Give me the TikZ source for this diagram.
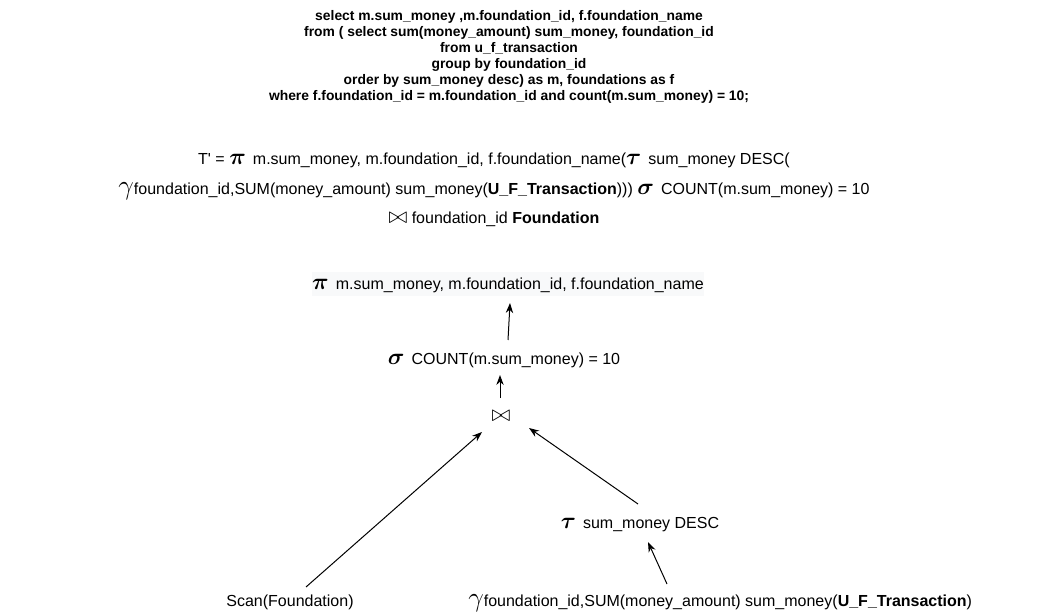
\documentclass[tikz,border=0pt]{standalone}
\usepackage{amsmath}
\usepackage{fontspec}
\setmainfont{Liberation Sans}
\usetikzlibrary{arrows.meta,calc}
\newcommand\GrkB[1]{{\fontsize{17pt}{17pt}\selectfont$\boldsymbol{#1}$}}
\newcommand\GrkG{{\fontsize{20pt}{20pt}\selectfont$\gamma$}}
\newcommand\JoinSym{{\fontsize{17pt}{17pt}\selectfont$\bowtie$}}
\definecolor{faint}{HTML}{F8F9FA}
\begin{document}
\begin{tikzpicture}[x=0.75pt,y=-0.75pt,
  txt/.style={inner sep=0pt, font=\fontsize{12pt}{14pt}\selectfont},
  sql/.style={inner sep=0pt, align=center, font=\fontsize{10.4pt}{12pt}\selectfont\bfseries},
  arr/.style={-{Stealth[length=7.5pt,width=5.5pt]}, line width=0.75pt}]
\useasboundingbox (0,0) rectangle (1041,616);
\node[sql] (sql) at (509,57) {select m.sum\_money ,m.foundation\_id, f.foundation\_name\\
from ( select sum(money\_amount) sum\_money, foundation\_id\\
from u\_f\_transaction\\
group by foundation\_id\\
order by sum\_money desc) as m, foundations as f\\
where f.foundation\_id = m.foundation\_id and count(m.sum\_money) = 10;};
\node[txt, align=center, font=\fontsize{12pt}{22.2pt}\selectfont] (expr) at (494,190)
 {T\textquotesingle{} = \GrkB{\pi}\, m.sum\_money, m.foundation\_id, f.foundation\_name(\GrkB{\tau}\, sum\_money DESC(\\
 \GrkG{}foundation\_id,SUM(money\_amount) sum\_money(\textbf{U\_F\_Transaction}))) \GrkB{\sigma}\, COUNT(m.sum\_money) = 10\\
 \JoinSym{} foundation\_id \textbf{Foundation}};
\fill[faint] (312,272) rectangle (704,296);
\node[txt] (pi) at (508,285) {\GrkB{\pi}\, m.sum\_money, m.foundation\_id, f.foundation\_name};
\node[txt] (sigma) at (504,360) {\GrkB{\sigma}\, COUNT(m.sum\_money) = 10};
\node[txt] (join) at (501,416) {\JoinSym};
\node[txt] (tau) at (640,525) {\GrkB{\tau}\, sum\_money DESC};
\node[txt] (scan) at (290,602) {Scan(Foundation)};
\node[txt, anchor=west] (gamma) at (468,603) {\GrkG{}foundation\_id,SUM(money\_amount) sum\_money(\textbf{U\_F\_Transaction})};
\draw[arr] ($(sigma.center)+(4,-20)$) -- ($(pi.center)+(2,18)$);
\draw[arr] ($(join.center)+(-1,-18)$) -- ($(sigma.center)+(-4,15)$);
\draw[arr] ($(scan.center)+(16,-15)$) -- ($(join.center)+(-19,16)$);
\draw[arr] ($(tau.center)+(-2,-21)$) -- ($(join.center)+(28,12)$);
\draw[arr] ($(gamma.west)+(199,-19)$) -- ($(tau.center)+(8,17)$);
\end{tikzpicture}
\end{document}
